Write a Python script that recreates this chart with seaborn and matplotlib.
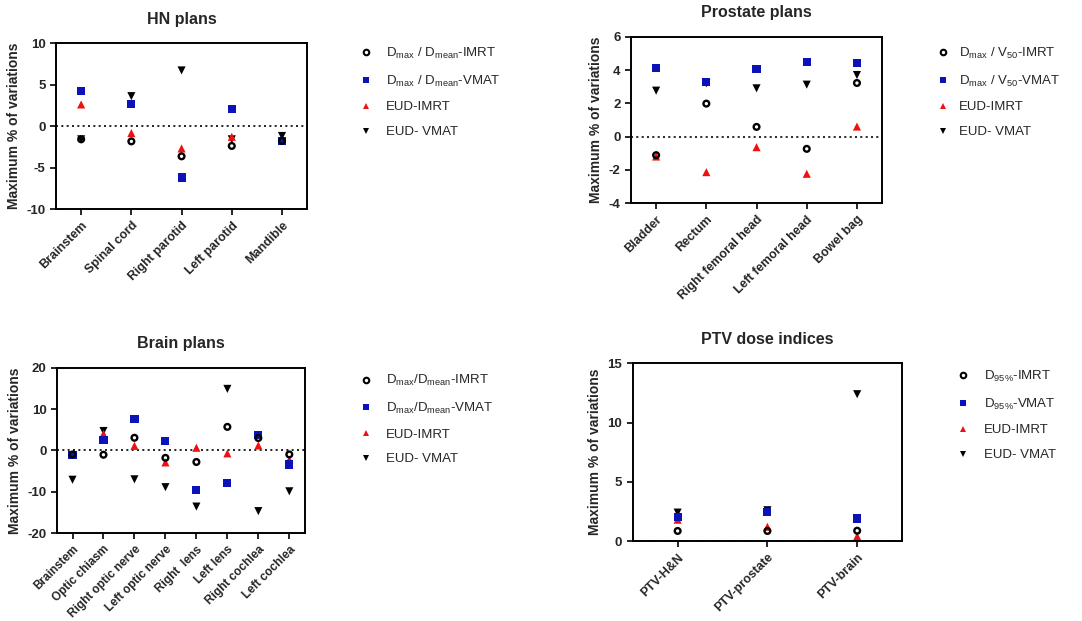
import numpy as np
import pandas as pd
import seaborn as sns
import matplotlib.pyplot as plt

# ---- data ----
hn_organs = ["Brainstem", "Spinal cord", "Right parotid", "Left parotid", "Mandible"]
hn_dmax_imrt = [-1.6, -1.85, -3.65, -2.4, -1.8]
hn_dmax_vmat = [4.2, 2.7, -6.2, 2.1, -1.85]
hn_eud_imrt = [2.6, -0.85, -2.7, -1.3, -1.8]
hn_eud_vmat = [-1.6, 3.6, 6.7, -1.6, -1.2]

pr_organs = ["Bladder", "Rectum", "Right femoral head", "Left femoral head", "Bowel bag"]
pr_dmax_imrt = [-1.12, 1.98, 0.58, -0.74, 3.22]
pr_dmax_vmat = [4.12, 3.3, 4.04, 4.48, 4.4]
pr_eud_imrt = [-1.2, -2.14, -0.64, -2.24, 0.6]
pr_eud_vmat = [2.76, 3.2, 2.9, 3.12, 3.7]

br_organs = ["Brainstem", "Optic chiasm", "Right optic nerve", "Left optic nerve",
             "Right  lens", "Left lens", "Right cochlea", "Left cochlea"]
br_dmax_imrt = [-0.97, -1.05, 3.06, -1.8, -2.8, 5.7, 3.0, -0.97]
br_dmax_vmat = [-1.2, 2.6, 7.6, 2.2, -9.65, -7.8, 3.7, -3.4]
br_eud_imrt = [-1.0, 4.0, 1.1, -2.9, 0.64, -0.72, 1.2, -2.25]
br_eud_vmat = [-7.1, 4.7, -7.0, -8.9, -13.6, 14.9, -14.7, -9.9]

ptv_sites = ["PTV-H&N", "PTV-prostate", "PTV-brain"]
ptv_d95_imrt = [0.85, 0.85, 0.87]
ptv_d95_vmat = [2.0, 2.45, 1.9]
ptv_eud_imrt = [1.8, 1.2, 0.4]
ptv_eud_vmat = [2.4, 2.6, 12.4]

sns.set_style("ticks")
plt.rcParams["font.family"] = ["Liberation Sans", "DejaVu Sans"]
plt.rcParams["mathtext.fontset"] = "custom"
plt.rcParams["mathtext.rm"] = "Liberation Sans"
plt.rcParams["axes.unicode_minus"] = False
plt.rcParams["axes.linewidth"] = 1.4
plt.rcParams["xtick.major.width"] = 1.4
plt.rcParams["ytick.major.width"] = 1.4
plt.rcParams["xtick.major.size"] = 4
plt.rcParams["ytick.major.size"] = 4

MARKERS = ["o", "s", "^", "v"]
COLORS = ["black", "#0a12b8", "#ee1111", "black"]


def panel(fig, rect, title, cats, series, labels, yticks, legend_xy, textpad, xfs=9):
    ax = fig.add_axes(rect)
    # drawing order: EUD-VMAT first, circles last (on top)
    rows = []
    for lab, vals in reversed(list(zip(labels, series))):
        for c, v in zip(cats, vals):
            rows.append({"organ": c, "value": v, "series": lab})
    df = pd.DataFrame(rows)
    df["organ"] = pd.Categorical(df["organ"], categories=cats, ordered=True)
    sns.scatterplot(data=df, x="organ", y="value", hue="series", style="series",
                    hue_order=labels, style_order=labels,
                    palette=dict(zip(labels, COLORS)),
                    markers=dict(zip(labels, MARKERS)),
                    s=34, linewidth=0, ax=ax, legend=False)
    # hollow, smaller circles for the IMRT D-metric
    coll = ax.collections[0]
    ser = df["series"].values
    is_circ = ser == labels[0]
    fc = coll.get_facecolors()
    ec = fc.copy()
    fc[is_circ] = (1, 1, 1, 0)
    coll.set_facecolors(fc)
    coll.set_edgecolors(ec)
    coll.set_linewidths(np.where(is_circ, 1.7, 0.0))
    coll.set_sizes(np.where(is_circ, 17, 34))

    ax.axhline(0, color="black", ls=(0, (1.2, 2)), lw=1.2, zorder=0)
    ax.set_xlim(-0.5, len(cats) - 0.5)
    ax.set_ylim(yticks[0], yticks[-1])
    ax.set_yticks(yticks)
    ax.set_xticks(range(len(cats)))
    ax.set_xticklabels(cats, rotation=45, ha="right", rotation_mode="anchor",
                       fontsize=xfs, fontweight="bold")
    for t in ax.get_yticklabels():
        t.set_fontweight("bold")
        t.set_fontsize(9.5)
    ax.set_xlabel("")
    ax.set_ylabel("Maximum % of variations", fontsize=10, fontweight="bold")
    ax.set_title(title, fontsize=11.5, fontweight="bold", pad=14)
    for sp in ax.spines.values():
        sp.set_visible(True)
        sp.set_color("black")

    handles = []
    for lab, m, col in zip(labels, MARKERS, COLORS):
        if m == "o":
            h = plt.Line2D([], [], ls="", marker=m, markersize=4,
                           markerfacecolor="white", markeredgecolor=col, markeredgewidth=1.5)
        else:
            h = plt.Line2D([], [], ls="", marker=m, markersize=5,
                           markerfacecolor=col, markeredgewidth=0)
        handles.append(h)
    ax.legend(handles, labels, loc="upper left", bbox_to_anchor=legend_xy,
              bbox_transform=fig.transFigure, frameon=False, fontsize=9.5,
              handlelength=1.0, handletextpad=textpad, borderpad=0,
              labelspacing=0.95, borderaxespad=0)
    return ax


fig = plt.figure(figsize=(10.82, 6.21), dpi=100)

panel(fig, [0.0518, 0.6634, 0.232, 0.2673], "HN plans", hn_organs,
      [hn_dmax_imrt, hn_dmax_vmat, hn_eud_imrt, hn_eud_vmat],
      [r"D$_{\mathregular{max}}$ / D$_{\mathregular{mean}}$-IMRT",
       r"D$_{\mathregular{max}}$ / D$_{\mathregular{mean}}$-VMAT",
       "EUD-IMRT", "EUD- VMAT"],
      [-10, -5, 0, 5, 10], (0.332, 0.926), 1.05)

panel(fig, [0.5832, 0.673, 0.232, 0.2678], "Prostate plans", pr_organs,
      [pr_dmax_imrt, pr_dmax_vmat, pr_eud_imrt, pr_eud_vmat],
      [r"D$_{\mathregular{max}}$ / V$_{\mathregular{50}}$-IMRT",
       r"D$_{\mathregular{max}}$ / V$_{\mathregular{50}}$-VMAT",
       "EUD-IMRT", "EUD- VMAT"],
      [-4, -2, 0, 2, 4, 6], (0.865, 0.926), 0.75)

panel(fig, [0.0527, 0.1417, 0.229, 0.266], "Brain plans", br_organs,
      [br_dmax_imrt, br_dmax_vmat, br_eud_imrt, br_eud_vmat],
      [r"D$_{\mathregular{max}}$/D$_{\mathregular{mean}}$-IMRT",
       r"D$_{\mathregular{max}}$/D$_{\mathregular{mean}}$-VMAT",
       "EUD-IMRT", "EUD- VMAT"],
      [-20, -10, 0, 10, 20], (0.332, 0.399), 1.0, xfs=8.5)

panel(fig, [0.5848, 0.1288, 0.2489, 0.286], "PTV dose indices", ptv_sites,
      [ptv_d95_imrt, ptv_d95_vmat, ptv_eud_imrt, ptv_eud_vmat],
      [r"D$_{\mathregular{95\%}}$-IMRT", r"D$_{\mathregular{95\%}}$-VMAT",
       "EUD-IMRT", "EUD- VMAT"],
      [0, 5, 10, 15], (0.8835, 0.406), 1.1)

fig.savefig("out.png", dpi=100)
